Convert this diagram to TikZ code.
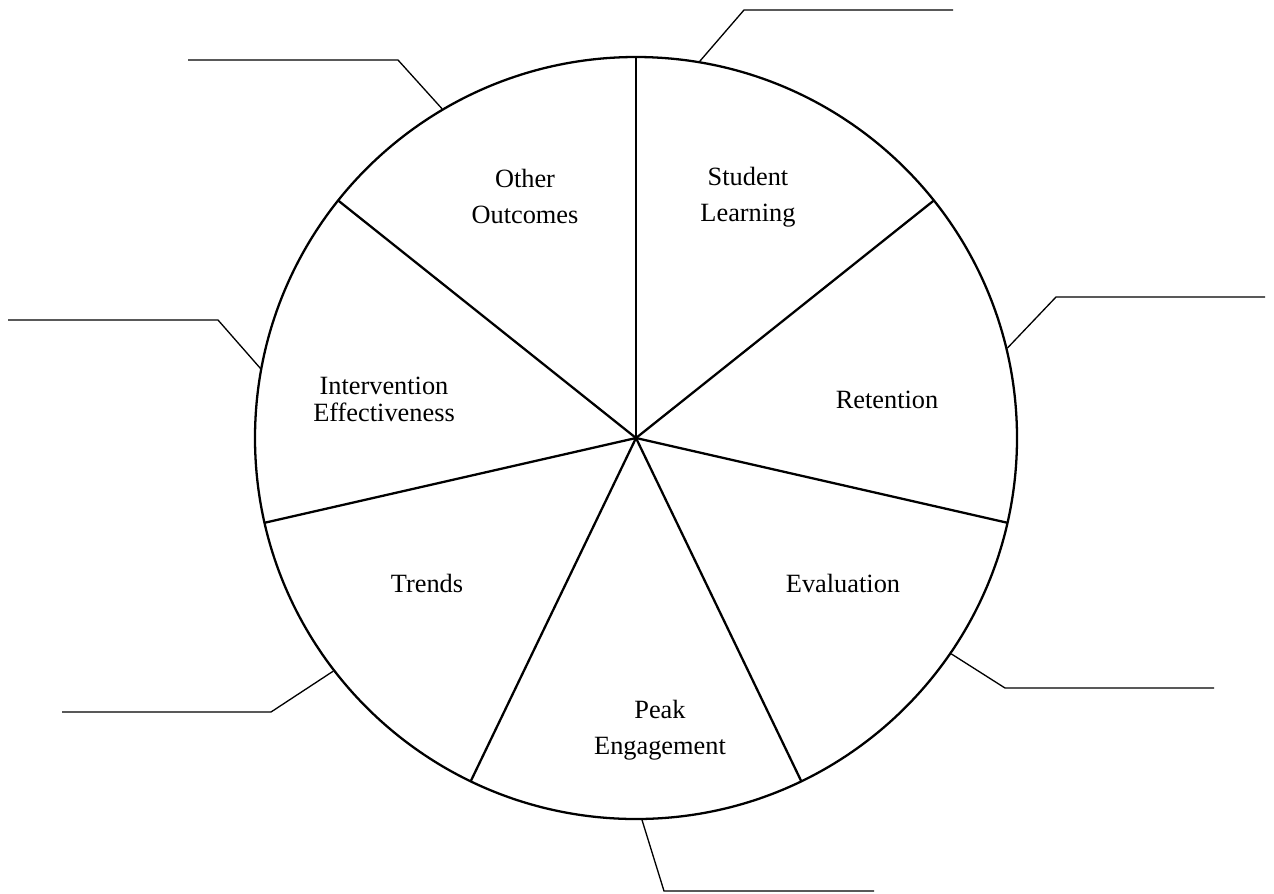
\documentclass[tikz,border=0pt]{standalone}
\usepackage{fontspec}
\setmainfont{Liberation Serif}
\begin{document}
\begin{tikzpicture}[x=0.02cm,y=-0.02cm,
  rim/.style={line width=1.3pt,line join=round},
  leader/.style={line width=0.75pt,line join=miter},
  lbl/.style={align=center,inner sep=0pt,font=\fontsize{15}{20.5}\selectfont},
  tightlbl/.style={align=center,inner sep=0pt,font=\fontsize{15}{15.3}\selectfont}]
\useasboundingbox (0,0) rectangle (1274,893);
% hub of the wheel
\coordinate (c) at (636,438);
% outer ring
\draw[rim] (c) circle[radius=381];
% seven spokes, 360/7 degrees apart (angles negated: y axis points down)
\foreach \a [count=\i] in {90,38.571,-12.857,-64.286,-115.714,-167.143,-218.571}{
  \path (c) ++(-\a:381) coordinate (s\i);
  \draw[rim] (c) -- (s\i);
}
% segment labels
\node[lbl] (t1) at (748,197) {Student\\Learning};
\node[lbl] (t2) at (887,400) {Retention};
\node[lbl] (t3) at (843,583) {Evaluation};
\node[lbl] (t4) at (660,730) {Peak\\Engagement};
\node[lbl] (t5) at (427,583) {Trends};
\node[tightlbl] (t6) at (384,399) {Intervention\\Effectiveness};
\node[lbl] (t7) at (525,196) {Other\\Outcomes};
% leader lines: rim point, elbow, free end
\foreach \i/\phi/\bx/\by/\ex in {
  1/80.4/744/10/953,
  2/13.6/1056/297/1265,
  3/-34.4/1005/688/1214,
  4/-89.1/664/891/874,
  5/-142.4/271/712/62,
  6/169.5/218/320/8,
  7/120.5/398/60/188}{
  \path (c) ++(-\phi:382) coordinate (p\i);
  \coordinate (b\i) at (\bx,\by);
  \coordinate (e\i) at (\ex,\by);
  \draw[leader] (p\i) -- (b\i) -- (e\i);
}
\end{tikzpicture}
\end{document}
